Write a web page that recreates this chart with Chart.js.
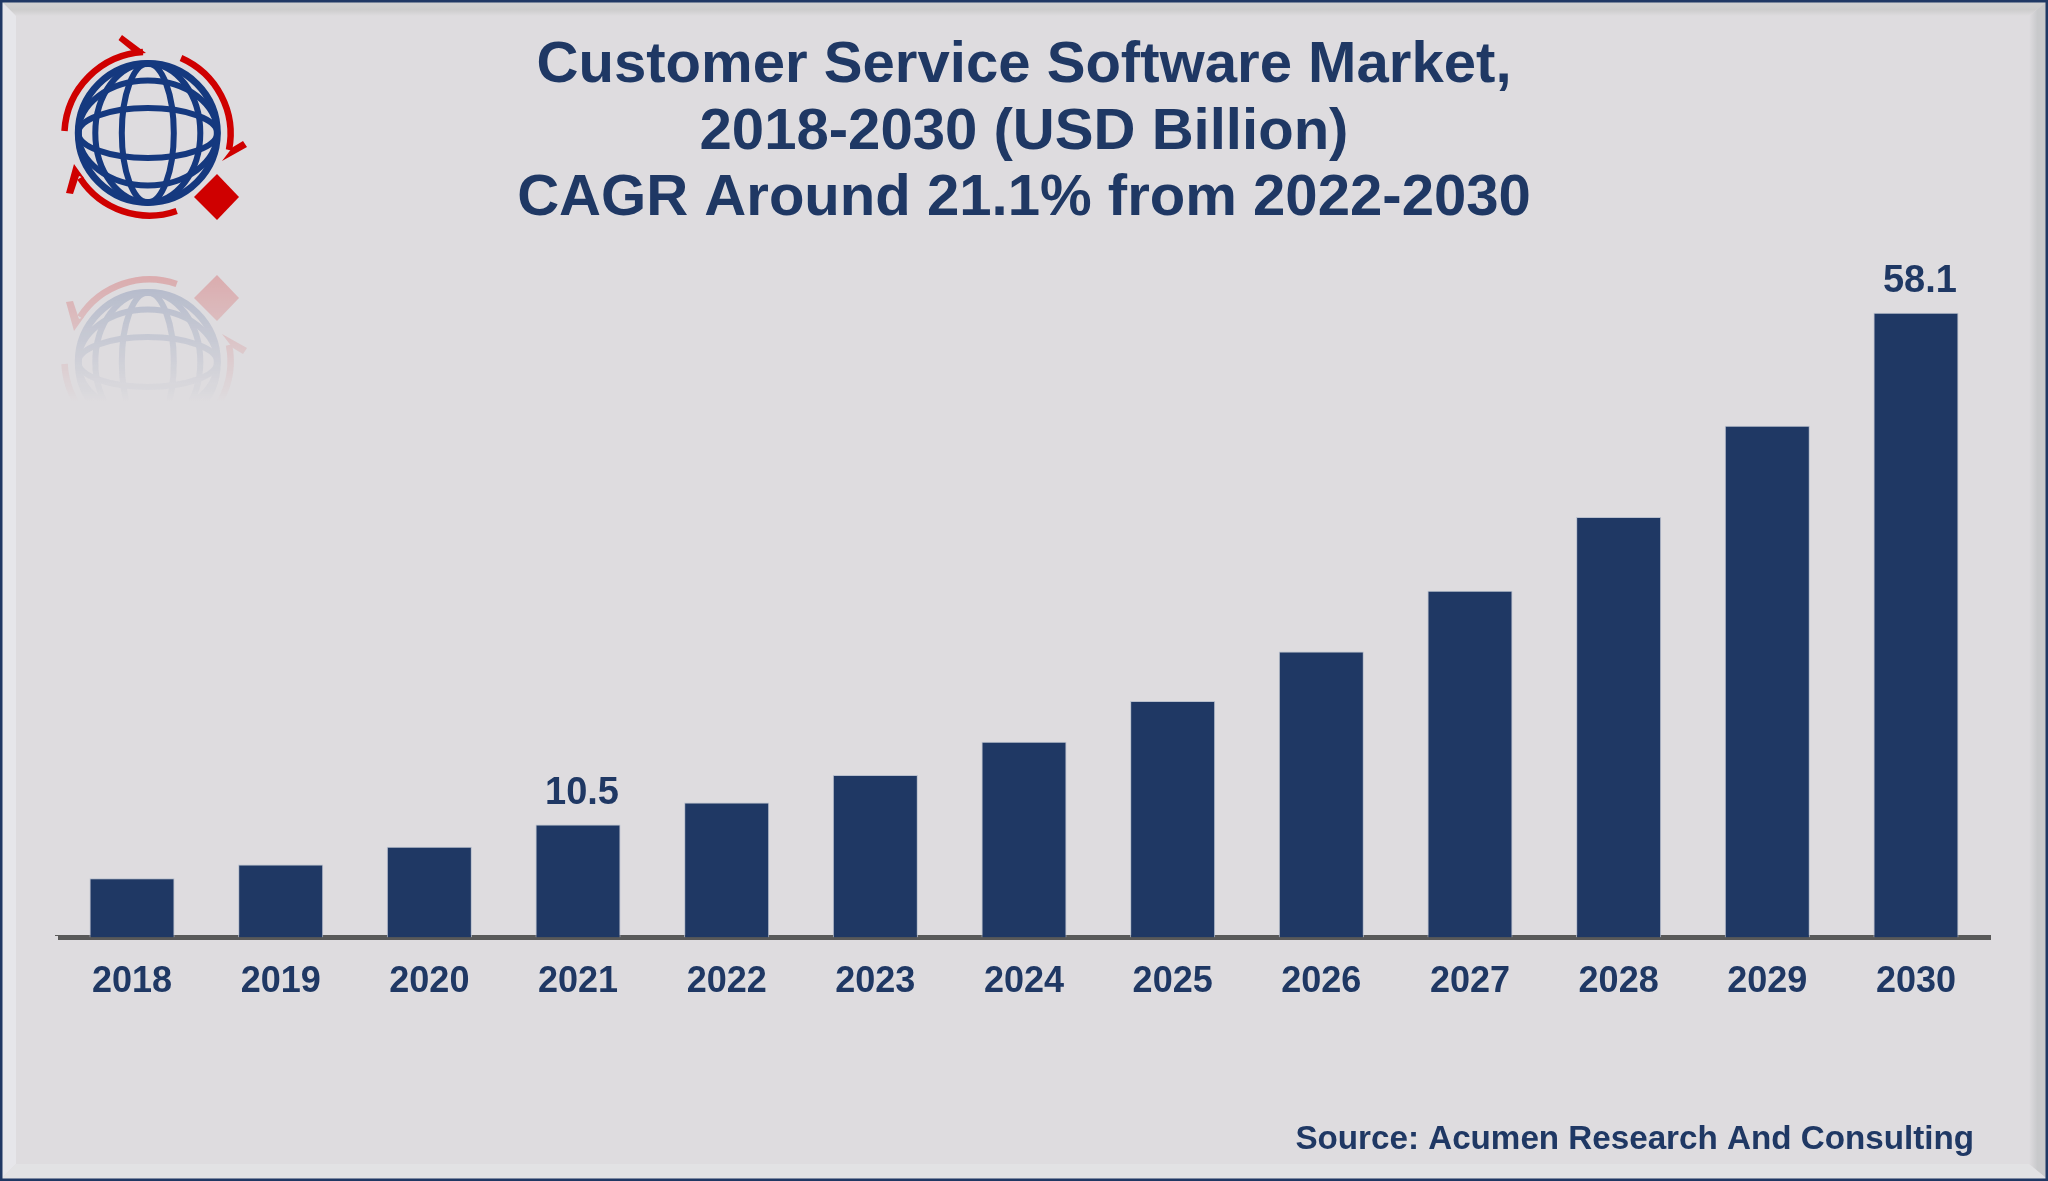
<!DOCTYPE html>
<html>
<head>
<meta charset="utf-8">
<style>
html,body{margin:0;padding:0;width:2048px;height:1181px;overflow:hidden;background:#dedcdf;}
#frame,#c{position:absolute;left:0;top:0;}
</style>
<script src="https://cdn.jsdelivr.net/npm/chart.js@4/dist/chart.umd.js"></script>
</head>
<body>
<svg id="frame" width="2048" height="1181" viewBox="0 0 2048 1181" xmlns="http://www.w3.org/2000/svg">
  <defs>
    <linearGradient id="topG" x1="0" y1="0" x2="0" y2="1"><stop offset="0" stop-color="#d2d2d2"/><stop offset="0.55" stop-color="#cdcdcd"/><stop offset="1" stop-color="#dedcdf"/></linearGradient>
    <linearGradient id="rightG" x1="0" y1="0" x2="1" y2="0"><stop offset="0" stop-color="#dedcdf"/><stop offset="0.5" stop-color="#c8c9cb"/><stop offset="1" stop-color="#c8c9cb"/></linearGradient>
    <linearGradient id="fade" gradientUnits="userSpaceOnUse" x1="0" y1="275" x2="0" y2="402"><stop offset="0" stop-color="#fff" stop-opacity="0.22"/><stop offset="1" stop-color="#fff" stop-opacity="0"/></linearGradient>
    <mask id="fadeMask" maskUnits="userSpaceOnUse" x="0" y="260" width="300" height="150"><rect x="0" y="260" width="300" height="150" fill="url(#fade)"/></mask>
    <g id="logo">
      <g fill="none" stroke="#cf0000" stroke-width="6.5">
        <path d="M64.5 131 A84 84 0 0 1 143 52"/>
        <path d="M181 58 A83 83 0 0 1 229 150"/>
        <path d="M176.7 211 A83 83 0 0 1 80 178"/>
      </g>
      <g fill="#cf0000">
        <polygon points="146,53 122,35 118.5,40 132,51 128,55"/>
        <polygon points="222,161 247,147 243,141 228,150 232,148"/>
        <polygon points="74,164 66,193 73,194 79,176 84,178"/>
        <polygon points="217,174 239,197 217,220 194,197"/>
      </g>
      <g fill="none" stroke="#15397f" stroke-width="6">
        <circle cx="147.8" cy="133" r="69.5" stroke-width="7"/>
        <ellipse cx="147.8" cy="133" rx="26" ry="69.5"/>
        <ellipse cx="147.8" cy="133" rx="52.5" ry="69.5"/>
        <ellipse cx="147.8" cy="133" rx="69.5" ry="25"/>
        <ellipse cx="147.8" cy="133" rx="69.5" ry="52.5"/>
      </g>
    </g>
  </defs>
  <rect width="2048" height="1181" fill="#dedcdf"/>
  <polygon points="2,2 2046,2 2029,16 16,16" fill="url(#topG)"/>
  <polygon points="2,2 16,16 16,1164 2,1178" fill="#e6e6ea"/>
  <polygon points="2046,2 2046,1178 2029,1164 2029,16" fill="url(#rightG)"/>
  <polygon points="2,1178 16,1164 2029,1164 2046,1178" fill="#e2e2e4"/>
  <rect x="1.25" y="1.25" width="2045.5" height="1178.5" fill="none" stroke="#1f3864" stroke-width="2.5"/>
  <use href="#logo"/>
  <g mask="url(#fadeMask)"><use href="#logo" transform="translate(0,495) scale(1,-1)"/></g>
</svg>
<canvas id="c" width="2048" height="1181"></canvas>
<script>
const CATEGORIES = ['2018','2019','2020','2021','2022','2023','2024','2025','2026','2027','2028','2029','2030'];
const MARKET_VALUES = [5.5,6.8,8.45,10.5,12.55,15.1,18.2,22.0,26.6,32.25,39.1,47.6,58.1];
const SHOWN_LABELS = ['','','','10.5','','','','','','','','','58.1'];
const TITLE_LINES = ['Customer Service Software Market,','2018-2030 (USD Billion)','CAGR Around 21.1% from 2022-2030'];
const SOURCE_TEXT = 'Source: Acumen Research And Consulting';
const NAVY = '#1f3864';
const FONT = '"Liberation Sans", Arial, sans-serif';

const annotate = {
  id: 'annotate',
  afterDatasetsDraw(chart) {
    const ctx = chart.ctx;
    const meta = chart.getDatasetMeta(0);
    const area = chart.chartArea;
    // the axis border overhangs its scale on the left by half its width
    ctx.clearRect(area.left - 4, area.bottom - 2, 4, 10);
    ctx.save();
    ctx.fillStyle = NAVY;
    ctx.textAlign = 'center';
    ctx.textBaseline = 'alphabetic';
    ctx.font = 'bold 38px ' + FONT;
    SHOWN_LABELS.forEach((t, i) => {
      if (t) ctx.fillText(t, meta.data[i].x + 4, meta.data[i].y - 20.5);
    });
    ctx.textAlign = 'right';
    ctx.font = 'bold 33.2px ' + FONT;
    ctx.fillText(SOURCE_TEXT, 1974, 1149);
    ctx.restore();
  }
};

new Chart(document.getElementById('c'), {
  type: 'bar',
  data: {
    labels: CATEGORIES,
    datasets: [{
      data: MARKET_VALUES,
      backgroundColor: NAVY,
      borderColor: '#b8bfcd',
      borderWidth: 1,
      barPercentage: 0.572,
      categoryPercentage: 1
    }]
  },
  plugins: [annotate],
  options: {
    responsive: false,
    animation: false,
    devicePixelRatio: 1,
    layout: { padding: { left: 57.7, right: 57.7, top: 0, bottom: 154.3 } },
    plugins: {
      legend: { display: false },
      tooltip: { enabled: false },
      title: {
        display: true,
        text: TITLE_LINES,
        color: NAVY,
        font: { family: FONT, size: 58.1, weight: 'bold', lineHeight: 1.1446 },
        padding: { top: 33, bottom: 0 }
      }
    },
    scales: {
      x: {
        grid: { display: false, drawTicks: false },
        border: { display: true, color: '#595959', width: 5 },
        ticks: {
          color: NAVY,
          font: { family: FONT, size: 36, weight: 'bold' },
          padding: 23,
          maxRotation: 0,
          autoSkip: false
        }
      },
      y: { display: false, min: 0, max: 65.56 }
    }
  }
});
</script>
</body>
</html>
